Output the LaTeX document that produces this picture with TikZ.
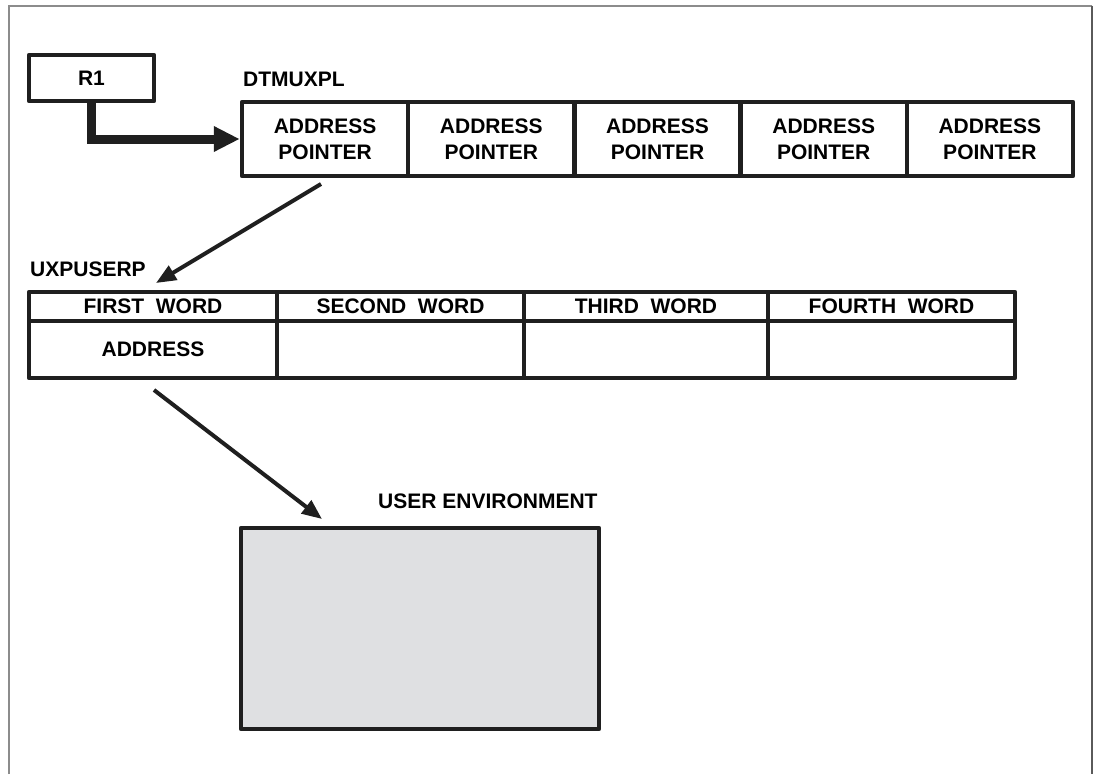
\documentclass[tikz,border=0pt]{standalone}
\usepackage{fontspec}
\setmainfont{Liberation Sans}
\usetikzlibrary{arrows.meta}
\definecolor{envgray}{RGB}{223,224,226}
\definecolor{framegray}{RGB}{140,140,140}
\definecolor{framedark}{RGB}{90,90,90}
\tikzset{
  lbl/.style={font=\fontsize{21}{26}\selectfont\bfseries, inner sep=0pt},
  cellbox/.style={draw=black!88, line width=4.5pt, line join=round, inner sep=0pt,
    font=\fontsize{21}{26}\selectfont\bfseries, align=center},
  thinarrow/.style={draw=black!88, line width=4pt, line cap=butt,
    -{Triangle[length=20pt,width=16pt]}},
  thickarrow/.style={draw=black!88, line width=9pt, line join=miter,
    -{Triangle[length=26pt,width=24pt]}},
}
\begin{document}
\begin{tikzpicture}[x=1pt,y=-1pt]
\useasboundingbox (0,0) rectangle (1094,774);
% page frame, open at the bottom
\draw[framegray, line width=2pt] (8.5,774) -- (8.5,5.5) -- (1092,5.5);
\draw[framedark, line width=2pt] (1092,5.5) -- (1092,774);

% register R1
\node[cellbox, minimum width=125pt, minimum height=46pt] (r1) at (91.5,78) {R1};

% DTMUXPL: row of address pointers
\node[lbl, anchor=west] (dtlbl) at (243,79) {DTMUXPL};
\foreach \i in {1,...,5} {
  \node[cellbox, minimum width=166.2pt, minimum height=74pt]
    (c\i) at ({242+166.2*(\i-0.5)},139) {ADDRESS\\POINTER};
}

% R1 points at the first entry
\draw[thickarrow] (r1.south) |- (c1.west);

% UXPUSERP: four-word block
\node[lbl, anchor=west] (uxlbl) at (30,269) {UXPUSERP};
\foreach \n/\xa/\xb/\t in {1/29/277/FIRST\ \ WORD, 2/277/524/SECOND\ \ WORD,
                          3/524/768/THIRD\ \ WORD, 4/768/1015/FOURTH\ \ WORD} {
  \node[cellbox, minimum width={\xb-\xa}, minimum height=29pt]
    (h\n) at ({(\xa+\xb)/2},306.5) {\t};
  \node[cellbox, minimum width={\xb-\xa}, minimum height=57pt]
    (w\n) at ({(\xa+\xb)/2},349.5) {};
}
\node[lbl] (addr) at (w1.center) {ADDRESS};

% user environment
\node[lbl, anchor=west] (uelbl) at (378,501) {USER ENVIRONMENT};
\node[draw=black!88, fill=envgray, line width=4.5pt, line join=round,
  minimum width=358pt, minimum height=201pt, inner sep=0pt] (env) at (420,628.5) {};

% pointer arrows
\coordinate (p1s) at (321,184);
\coordinate (p1e) at (156,283);
\coordinate (p2s) at (154,390);
\coordinate (p2e) at (322,519);
\draw[thinarrow] (p1s) -- (p1e);
\draw[thinarrow] (p2s) -- (p2e);
\end{tikzpicture}
\end{document}
